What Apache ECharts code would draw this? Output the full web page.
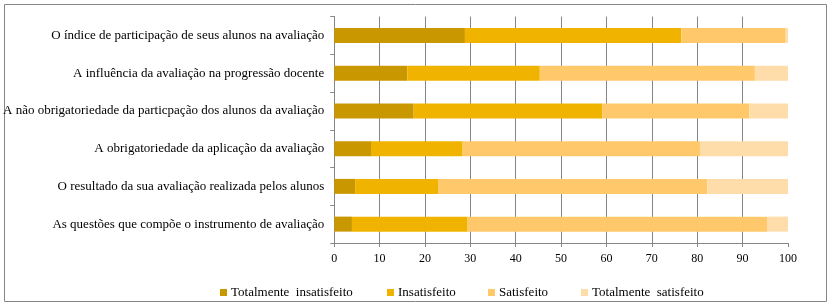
<!DOCTYPE html>
<html><head><meta charset="utf-8">
<script src="https://cdn.jsdelivr.net/npm/echarts@6/dist/echarts.min.js"></script>
<style>html,body{margin:0;padding:0;background:#fff}#c{width:831px;height:307px}</style>
</head><body><div id="c"></div>
<script>
const categories = [
  "O índice de participação de seus alunos na avaliação",
  "A influência da avaliação na progressão docente",
  "A não obrigatoriedade da particpação dos alunos da avaliação",
  "A obrigatoriedade da aplicação da avaliação",
  "O resultado da sua avaliação realizada pelos alunos",
  "As questões que compõe o instrumento de avaliação"
];
const seriesNames = ["Totalmente  insatisfeito", "Insatisfeito", "Satisfeito", "Totalmente  satisfeito"];
const totInsat = [28.8, 16.1, 17.5, 8.1, 4.6, 3.9];
const insat    = [47.7, 29.2, 41.6, 20.2, 18.4, 25.5];
const satisf   = [23.0, 47.4, 32.4, 52.3, 59.2, 66.1];
const totSat   = [0.5, 7.3, 8.5, 19.4, 17.8, 4.5];
const xTicks = [0, 10, 20, 30, 40, 50, 60, 70, 80, 90, 100];

const colors = ["#C99700", "#F0B400", "#FFC96B", "#FFDDAA"];
const values = [totInsat, insat, satisf, totSat];
const font = "'Liberation Serif', 'Times New Roman', serif";
const legendLefts = [220, 387, 488, 581];

const chart = echarts.init(document.getElementById('c'), null, {renderer: 'canvas'});
chart.setOption({
  animation: false,
  color: colors,
  textStyle: {fontFamily: font},
  graphic: [{
    type: 'rect', shape: {x: 4.5, y: 4.5, width: 822, height: 297},
    style: {fill: null, stroke: '#868686', lineWidth: 1}, z: 0
  }],
  grid: {left: 333, right: 43, top: 16.5, height: 226.5, containLabel: false},
  legend: seriesNames.map((n, i) => ({
    data: [n], left: legendLefts[i], top: 286, itemWidth: 7, itemHeight: 7, itemGap: 0,
    icon: 'rect', textStyle: {fontFamily: font, fontSize: 13, color: '#000', padding: [0, 0, 0, -1]},
    padding: 0
  })),
  xAxis: {
    type: 'value', min: 0, max: 100, interval: 10,
    axisLine: {show: true, lineStyle: {color: '#868686'}},
    axisTick: {show: true, length: 4, lineStyle: {color: '#868686'}},
    axisLabel: {color: '#000', fontSize: 12, fontFamily: font, margin: 10,
      formatter: v => xTicks.includes(v) ? String(v) : ''},
    splitLine: {show: true, showMinLine: false, showMaxLine: false, lineStyle: {color: '#868686', width: 1}}
  },
  yAxis: {
    type: 'category', data: categories, inverse: true,
    axisLine: {show: true, lineStyle: {color: '#868686'}},
    axisTick: {show: true, length: 4, lineStyle: {color: '#868686'}},
    axisLabel: {color: '#000', fontSize: 13, fontFamily: font, margin: 10}
  },
  series: seriesNames.map((n, i) => ({
    name: n, type: 'bar', stack: 'total', data: values[i], barWidth: 15,
    itemStyle: {color: colors[i]}
  }))
});
</script></body></html>
